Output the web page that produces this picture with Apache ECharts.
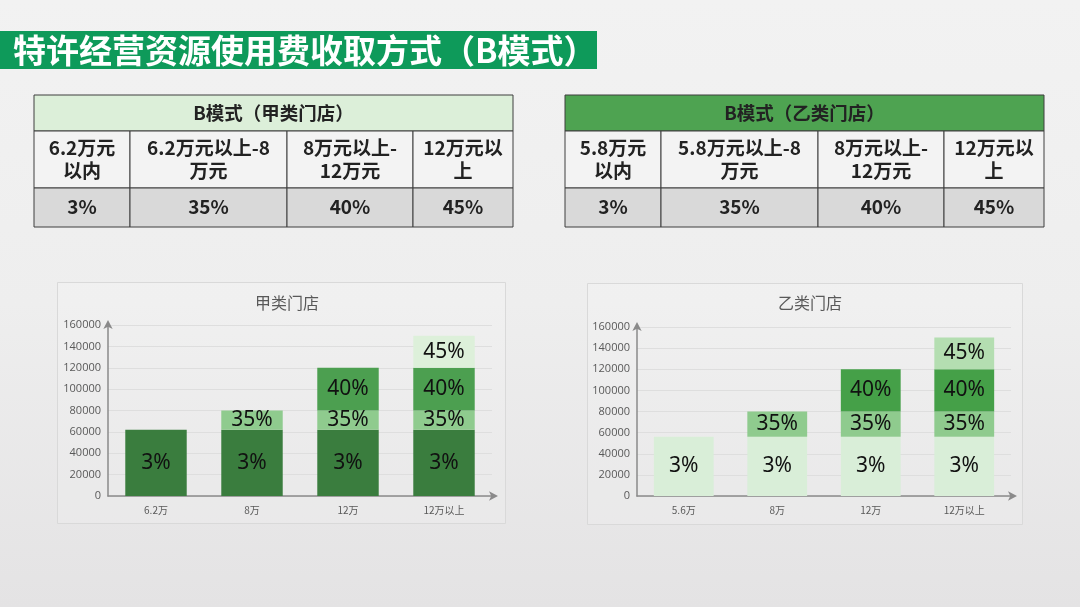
<!DOCTYPE html>
<html>
<head>
<meta charset="utf-8">
<script src="https://cdn.jsdelivr.net/npm/echarts@6/dist/echarts.min.js"></script>
<style>
html,body{margin:0;padding:0;width:1080px;height:607px;overflow:hidden;}
body{background:linear-gradient(to bottom,#f2f2f2 0%,#eeeeee 50%,#e4e3e4 100%);}
#main{width:1080px;height:607px;}
</style>
</head>
<body>
<div id="main"></div>
<script>
// ---- data ----
var pageTitle = '特许经营资源使用费收取方式（B模式）';
var tableTitleA = 'B模式（甲类门店）';
var tableTitleB = 'B模式（乙类门店）';
var tableHeadA = ['6.2万元\n以内', '6.2万元以上-8\n万元', '8万元以上-\n12万元', '12万元以\n上'];
var tableHeadB = ['5.8万元\n以内', '5.8万元以上-8\n万元', '8万元以上-\n12万元', '12万元以\n上'];
var tableRates = ['3%', '35%', '40%', '45%'];

var chartTitleA = '甲类门店';
var chartTitleB = '乙类门店';
var categoriesA = ['6.2万', '8万', '12万', '12万以上'];
var categoriesB = ['5.6万', '8万', '12万', '12万以上'];
var tierNames = ['3%', '35%', '40%', '45%'];

var tier1A = [62000, 62000, 62000, 62000];
var tier2A = [null, 18000, 18000, 18000];
var tier3A = [null, null, 40000, 40000];
var tier4A = [null, null, null, 30000];

var tier1B = [56000, 56000, 56000, 56000];
var tier2B = [null, 24000, 24000, 24000];
var tier3B = [null, null, 40000, 40000];
var tier4B = [null, null, null, 30000];

var yMax = 160000;
var yInterval = 20000;

// ---- styles ----
var colorsA = ['#3a7d3e', '#8fcb8e', '#4c9f50', '#ddf0da'];
var colorsB = ['#d9eed8', '#8fcb8e', '#45a048', '#b4deb1'];
var cjk = '"Noto Sans CJK SC", "Noto Sans", sans-serif';

function makeTable(cols, rows, title, heads, rates, headFill) {
  var els = [];
  var x0 = cols[0], x1 = cols[cols.length - 1];
  els.push({type: 'rect', shape: {x: x0, y: rows[0], width: x1 - x0, height: rows[1] - rows[0]},
    style: {fill: headFill, stroke: '#3f3f3f', lineWidth: 1}});
  els.push({type: 'text', x: (x0 + x1) / 2, y: (rows[0] + rows[1]) / 2,
    style: {text: title, fill: '#222', font: 'bold 18.5px ' + cjk, textAlign: 'center', textVerticalAlign: 'middle'}});
  for (var i = 0; i < heads.length; i++) {
    var cx = cols[i], cw = cols[i + 1] - cols[i];
    els.push({type: 'rect', shape: {x: cx, y: rows[1], width: cw, height: rows[2] - rows[1]},
      style: {fill: '#f3f3f3', stroke: '#3f3f3f', lineWidth: 1}});
    els.push({type: 'text', x: cx + cw / 2, y: (rows[1] + rows[2]) / 2,
      style: {text: heads[i], fill: '#222', font: 'bold 19px ' + cjk, lineHeight: 23, textAlign: 'center', textVerticalAlign: 'middle'}});
    els.push({type: 'rect', shape: {x: cx, y: rows[2], width: cw, height: rows[3] - rows[2]},
      style: {fill: '#d9d9d9', stroke: '#3f3f3f', lineWidth: 1}});
    els.push({type: 'text', x: cx + cw / 2, y: (rows[2] + rows[3]) / 2 - 1,
      style: {text: rates[i], fill: '#222', font: 'bold 19px ' + cjk, textAlign: 'center', textVerticalAlign: 'middle'}});
  }
  return els;
}

var graphics = [];
graphics.push({type: 'rect', z: -10, shape: {x: 0, y: 31, width: 597, height: 38}, style: {fill: '#0e9a5a'}});
graphics.push({type: 'text', z: -9, x: 13, y: 50, style: {text: pageTitle, fill: '#ffffff', font: 'bold 33px ' + cjk, textVerticalAlign: 'middle'}});
graphics = graphics.concat(makeTable([34, 130, 287, 413, 513], [95, 131, 188, 227], tableTitleA, tableHeadA, tableRates, '#dcefd9'));
graphics = graphics.concat(makeTable([565, 661, 818, 944, 1044], [95, 131, 188, 227], tableTitleB, tableHeadB, tableRates, '#4ea351'));
graphics.push({type: 'rect', z: -10, shape: {x: 57.5, y: 282.5, width: 448, height: 241}, style: {fill: 'rgba(255,255,255,0.12)', stroke: '#d9d9d9', lineWidth: 1}});
graphics.push({type: 'rect', z: -10, shape: {x: 587.5, y: 283.5, width: 435, height: 241}, style: {fill: 'rgba(255,255,255,0.12)', stroke: '#d9d9d9', lineWidth: 1}});

function xAxisCfg(idx, cats) {
  return {type: 'category', gridIndex: idx, data: cats,
    axisLine: {show: true, lineStyle: {color: '#8a8a8a', width: 1.5}, symbol: ['none', 'arrow'], symbolSize: [7, 9], symbolOffset: [0, 6]},
    axisTick: {show: false},
    axisLabel: {color: '#595959', fontSize: 10, margin: 9, fontFamily: cjk}};
}
function yAxisCfg(idx) {
  return {type: 'value', gridIndex: idx, min: 0, max: yMax, interval: yInterval,
    axisLine: {show: true, lineStyle: {color: '#8a8a8a', width: 1.5}, symbol: ['none', 'arrow'], symbolSize: [7, 9], symbolOffset: [0, 5]},
    axisTick: {show: false},
    splitLine: {lineStyle: {color: '#dedede', width: 1}},
    axisLabel: {color: '#595959', fontSize: 11, margin: 7, fontFamily: '"Open Sans", sans-serif',
      formatter: function (v) { return String(v); }}};
}
function barSeries(name, data, color, idx) {
  return {type: 'bar', name: name, data: data, stack: 's' + idx, xAxisIndex: idx, yAxisIndex: idx,
    barWidth: '64%', itemStyle: {color: color},
    label: {show: true, position: 'inside', formatter: '{a}', color: '#111', fontSize: 21, fontFamily: '"Noto Sans", sans-serif'}};
}

var tiersA = [tier1A, tier2A, tier3A, tier4A];
var tiersB = [tier1B, tier2B, tier3B, tier4B];
var series = [];
for (var i = 0; i < 4; i++) series.push(barSeries(tierNames[i], tiersA[i], colorsA[i], 0));
for (var j = 0; j < 4; j++) series.push(barSeries(tierNames[j], tiersB[j], colorsB[j], 1));

var chart = echarts.init(document.getElementById('main'), null, {renderer: 'canvas'});
chart.setOption({
  backgroundColor: 'transparent',
  animation: false,
  title: [
    {text: chartTitleA, left: 282, top: 290, textAlign: 'center', textStyle: {color: '#595959', fontSize: 16, fontWeight: 'normal', fontFamily: cjk}},
    {text: chartTitleB, left: 805, top: 290, textAlign: 'center', textStyle: {color: '#595959', fontSize: 16, fontWeight: 'normal', fontFamily: cjk}}
  ],
  grid: [
    {left: 108, top: 325, width: 384, height: 171},
    {left: 637, top: 327, width: 374, height: 169}
  ],
  xAxis: [xAxisCfg(0, categoriesA), xAxisCfg(1, categoriesB)],
  yAxis: [yAxisCfg(0), yAxisCfg(1)],
  series: series,
  graphic: graphics
});
</script>
</body>
</html>
